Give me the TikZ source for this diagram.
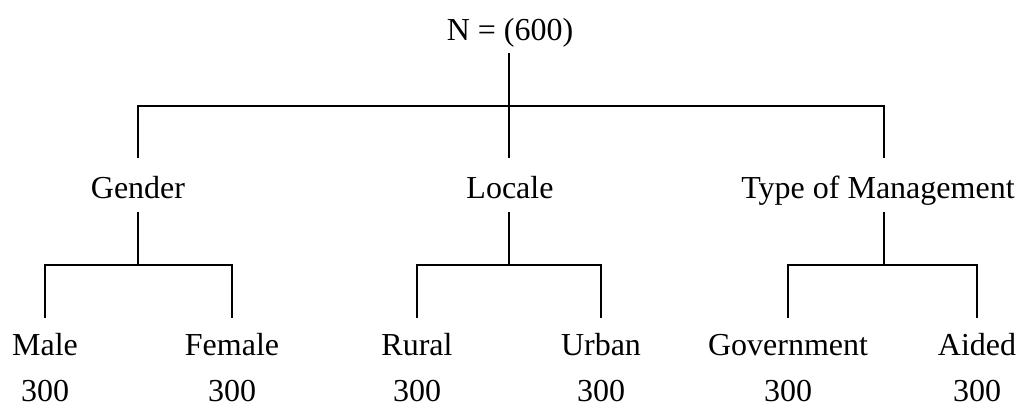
\documentclass[tikz,border=0pt]{standalone}
\usepackage{fontspec}
\setmainfont{Liberation Serif}
\begin{document}
\begin{tikzpicture}[x=1pt,y=-1pt,
  lbl/.style={inner sep=0pt,anchor=base,text height=20pt,text depth=6pt,font=\fontsize{32}{36}\selectfont},
  ln/.style={line width=1.2pt,line cap=rect}]
\useasboundingbox (0,0) rectangle (1025,410);
% labels
\node[lbl] (N) at (510,40) {N = (600)};
\node[lbl] (g) at (138,198) {Gender};
\node[lbl] (l) at (510,198) {Locale};
\node[lbl] (t) at (878,198) {Type of Management};
\node[lbl] (m) at (45,355) {Male};
\node[lbl] (f) at (232,355) {Female};
\node[lbl] (r) at (417,355) {Rural};
\node[lbl] (u) at (601,355) {Urban};
\node[lbl] (gv) at (788,355) {Government};
\node[lbl] (a) at (977,355) {Aided};
\node[lbl] (m3) at (45,401) {300};
\node[lbl] (f3) at (232,401) {300};
\node[lbl] (r3) at (417,401) {300};
\node[lbl] (u3) at (601,401) {300};
\node[lbl] (gv3) at (788,401) {300};
\node[lbl] (a3) at (977,401) {300};
% junctions
\coordinate (j0) at (509,106);
\coordinate (jg) at (138,265);
\coordinate (jl) at (509,265);
\coordinate (jt) at (884,265);
% top level
\draw[ln] ([yshift=-7pt]N.south -| j0) -- (j0);
\draw[ln] ([yshift=20pt]g.north) |- (j0) -| ([yshift=20pt]t.north -| jt);
\draw[ln] (j0) -- ([yshift=20pt]l.north -| j0);
% second level
\draw[ln] ([yshift=-8pt]g.south) -- (jg);
\draw[ln] ([yshift=-8pt]l.south -| jl) -- (jl);
\draw[ln] ([yshift=-8pt]t.south -| jt) -- (jt);
\draw[ln] ([yshift=17pt]m.north) |- (jg) -| ([yshift=17pt]f.north);
\draw[ln] ([yshift=17pt]r.north) |- (jl) -| ([yshift=17pt]u.north);
\draw[ln] ([yshift=17pt]gv.north) |- (jt) -| ([yshift=17pt]a.north);
\end{tikzpicture}
\end{document}
